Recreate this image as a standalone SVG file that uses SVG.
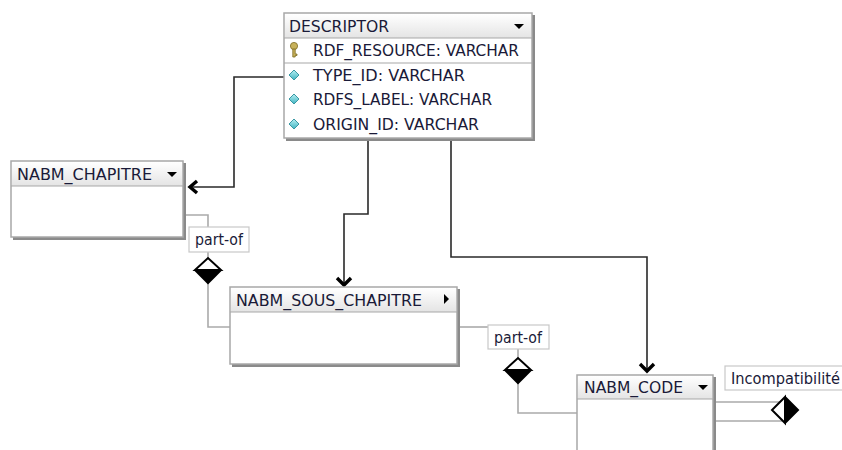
<svg xmlns="http://www.w3.org/2000/svg" width="842" height="450" viewBox="0 0 842 450">
<defs>
<linearGradient id="hdr" x1="0" y1="0" x2="0" y2="1">
<stop offset="0" stop-color="#ffffff"/>
<stop offset="1" stop-color="#e4e4e4"/>
</linearGradient>
<linearGradient id="cy" x1="0" y1="0" x2="0" y2="1">
<stop offset="0" stop-color="#b8f0f4"/>
<stop offset="1" stop-color="#3fb3c0"/>
</linearGradient>
</defs>
<style>
.box{fill:#ffffff;stroke:#a8a8a8;stroke-width:1.5}
.shadow{fill:none;stroke:#8a8a8a;stroke-width:3}
.hdr{fill:url(#hdr)}
.sep{stroke:#a8a8a8;stroke-width:1.2}
.t{font-family:"DejaVu Sans",Tahoma,sans-serif;font-size:15px;fill:#1a1a38}
.conn{fill:none;stroke:#2a2a2a;stroke-width:1.6}
.arr{fill:none;stroke:#000;stroke-width:3.4;stroke-linejoin:miter}
.rel{fill:none;stroke:#aaaaaa;stroke-width:1.6}
.lbl{fill:#ffffff;stroke:#c8c8c8;stroke-width:1.2}
.dw{fill:#ffffff;stroke:#000;stroke-width:2;stroke-linejoin:miter}
.db{fill:#000}
.tri{fill:#000}
.att{fill:url(#cy);stroke:#3a98a4;stroke-width:1}
</style>

<g id="connectors">
<path class="conn" d="M284,77 H234 V187 H190"/>
<path class="arr" d="M197,181 L190,187 L197,193"/>
<path class="conn" d="M368,139 V214 H344 V285"/>
<path class="arr" d="M337,278 L344,285 L351,278"/>
<path class="conn" d="M451,139 V257 H647 V371"/>
<path class="arr" d="M640,364 L647,371 L654,364"/>
<path class="rel" d="M184,215 H208 V227"/>
<path class="rel" d="M208,252 V258"/>
<path class="rel" d="M208,283 V327 H230"/>
<path class="rel" d="M459,327 H488"/>
<path class="rel" d="M518,349 V358"/>
<path class="rel" d="M518,383 V413 H577"/>
<path class="rel" d="M716,402 H783"/>
<path class="rel" d="M716,421 H782"/>
</g>

<g id="descriptor">
<path class="shadow" d="M533.5,15 V139.5 H286"/>
<rect class="box" x="284" y="13" width="248" height="125"/>
<rect class="hdr" x="285" y="14" width="246" height="24"/>
<line class="sep" x1="284" y1="38" x2="532" y2="38"/>
<line class="sep" x1="284" y1="63" x2="532" y2="63"/>
<text class="t" x="289" y="32" textLength="100" lengthAdjust="spacingAndGlyphs">DESCRIPTOR</text>
<path class="tri" d="M514,24 H524 L519,29 Z"/>
<g fill="#c7b15a" stroke="#7c6a22" stroke-width="0.8">
<circle cx="294" cy="46" r="3.6"/>
<path d="M292.8,49 V57 H295.2 V55.5 H297 V54 H295.2 V49 Z"/>
</g>
<text class="t" x="313" y="56" textLength="206" lengthAdjust="spacingAndGlyphs">RDF_RESOURCE: VARCHAR</text>
<path class="att" d="M294,70 L299,75 L294,80 L289,75 Z"/>
<text class="t" x="313" y="81" textLength="152" lengthAdjust="spacingAndGlyphs">TYPE_ID: VARCHAR</text>
<path class="att" d="M294,94 L299,99 L294,104 L289,99 Z"/>
<text class="t" x="313" y="105" textLength="179" lengthAdjust="spacingAndGlyphs">RDFS_LABEL: VARCHAR</text>
<path class="att" d="M294,119 L299,124 L294,129 L289,124 Z"/>
<text class="t" x="313" y="130" textLength="166" lengthAdjust="spacingAndGlyphs">ORIGIN_ID: VARCHAR</text>
</g>

<g id="nabm_chapitre">
<path class="shadow" d="M184.5,163 V238.5 H13"/>
<rect class="box" x="11" y="161" width="172" height="76"/>
<rect class="hdr" x="12" y="162" width="170" height="24"/>
<line class="sep" x1="11" y1="186" x2="183" y2="186"/>
<text class="t" x="17" y="180" textLength="135" lengthAdjust="spacingAndGlyphs">NABM_CHAPITRE</text>
<path class="tri" d="M167,172 H177 L172,177 Z"/>
</g>

<g id="nabm_sous_chapitre">
<path class="shadow" d="M458.5,289 V365.5 H232"/>
<rect class="box" x="230" y="287" width="227" height="77"/>
<rect class="hdr" x="231" y="288" width="225" height="24"/>
<line class="sep" x1="230" y1="312" x2="457" y2="312"/>
<text class="t" x="236" y="306" textLength="186" lengthAdjust="spacingAndGlyphs">NABM_SOUS_CHAPITRE</text>
<path class="tri" d="M444,294 L449,299 L444,304 Z"/>
</g>

<g id="nabm_code">
<path class="shadow" d="M714.5,377 V452"/>
<rect class="box" x="577" y="375" width="136" height="80"/>
<rect class="hdr" x="578" y="376" width="134" height="23"/>
<line class="sep" x1="577" y1="399" x2="713" y2="399"/>
<text class="t" x="584" y="393" textLength="99" lengthAdjust="spacingAndGlyphs">NABM_CODE</text>
<path class="tri" d="M698,385 H708 L703,390 Z"/>
</g>

<g id="partof1">
<rect class="lbl" x="189" y="227" width="60" height="25"/>
<text class="t" x="195" y="245" textLength="48" lengthAdjust="spacingAndGlyphs">part-of</text>
<path class="db" d="M195,270 L221,270 L208,283 Z"/>
<path class="dw" d="M195,270 L208,258 L221,270 Z"/>
<path d="M195,270 L208,283 L221,270" fill="none" stroke="#000" stroke-width="2"/>
</g>

<g id="partof2">
<rect class="lbl" x="488" y="325" width="61" height="24"/>
<text class="t" x="494" y="343" textLength="48" lengthAdjust="spacingAndGlyphs">part-of</text>
<path class="db" d="M505,370 L531,370 L518,383 Z"/>
<path class="dw" d="M505,370 L518,358 L531,370 Z"/>
<path d="M505,370 L518,383 L531,370" fill="none" stroke="#000" stroke-width="2"/>
</g>

<g id="incompatibilite">
<rect class="lbl" x="725" y="366" width="125" height="24"/>
<text class="t" x="731" y="384" textLength="109" lengthAdjust="spacingAndGlyphs">Incompatibilité</text>
<path class="db" d="M785,397 L798,410 L785,423 Z"/>
<path class="dw" d="M785,397 L772,410 L785,423 Z"/>
<path d="M785,397 L798,410 L785,423" fill="none" stroke="#000" stroke-width="2"/>
</g>
</svg>
